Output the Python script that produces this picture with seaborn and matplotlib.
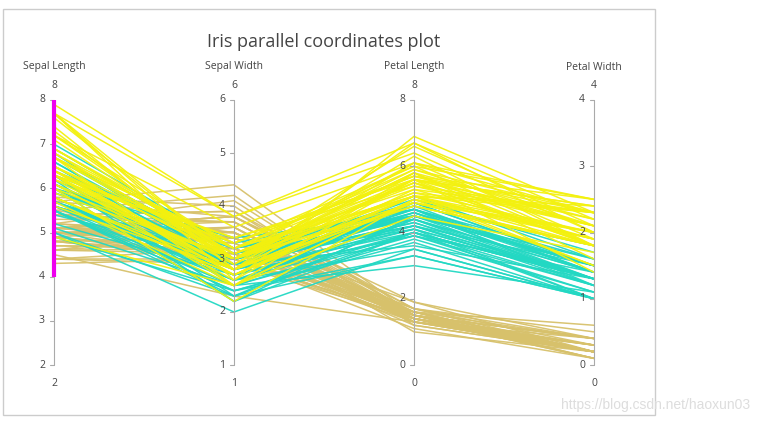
import pandas as pd
import seaborn as sns
import matplotlib.pyplot as plt
from matplotlib.patches import Rectangle

# Iris data (Fisher), 50 rows per species
sepal_length = [
    5.1, 4.9, 4.7, 4.6, 5.0, 5.4, 4.6, 5.0, 4.4, 4.9, 5.4, 4.8, 4.8, 4.3, 5.8, 5.7, 5.4, 5.1, 5.7, 5.1,
    5.4, 5.1, 4.6, 5.1, 4.8, 5.0, 5.0, 5.2, 5.2, 4.7, 4.8, 5.4, 5.2, 5.5, 4.9, 5.0, 5.5, 4.9, 4.4, 5.1,
    5.0, 4.5, 4.4, 5.0, 5.1, 4.8, 5.1, 4.6, 5.3, 5.0,
    7.0, 6.4, 6.9, 5.5, 6.5, 5.7, 6.3, 4.9, 6.6, 5.2, 5.0, 5.9, 6.0, 6.1, 5.6, 6.7, 5.6, 5.8, 6.2, 5.6,
    5.9, 6.1, 6.3, 6.1, 6.4, 6.6, 6.8, 6.7, 6.0, 5.7, 5.5, 5.5, 5.8, 6.0, 5.4, 6.0, 6.7, 6.3, 5.6, 5.5,
    5.5, 6.1, 5.8, 5.0, 5.6, 5.7, 5.7, 6.2, 5.1, 5.7,
    6.3, 5.8, 7.1, 6.3, 6.5, 7.6, 4.9, 7.3, 6.7, 7.2, 6.5, 6.4, 6.8, 5.7, 5.8, 6.4, 6.5, 7.7, 7.7, 6.0,
    6.9, 5.6, 7.7, 6.3, 6.7, 7.2, 6.2, 6.1, 6.4, 7.2, 7.4, 7.9, 6.4, 6.3, 6.1, 7.7, 6.3, 6.4, 6.0, 6.9,
    6.7, 6.9, 5.8, 6.8, 6.7, 6.7, 6.3, 6.5, 6.2, 5.9,
]
sepal_width = [
    3.5, 3.0, 3.2, 3.1, 3.6, 3.9, 3.4, 3.4, 2.9, 3.1, 3.7, 3.4, 3.0, 3.0, 4.0, 4.4, 3.9, 3.5, 3.8, 3.8,
    3.4, 3.7, 3.6, 3.3, 3.4, 3.0, 3.4, 3.5, 3.4, 3.2, 3.1, 3.4, 4.1, 4.2, 3.1, 3.2, 3.5, 3.6, 3.0, 3.4,
    3.5, 2.3, 3.2, 3.5, 3.8, 3.0, 3.8, 3.2, 3.7, 3.3,
    3.2, 3.2, 3.1, 2.3, 2.8, 2.8, 3.3, 2.4, 2.9, 2.7, 2.0, 3.0, 2.2, 2.9, 2.9, 3.1, 3.0, 2.7, 2.2, 2.5,
    3.2, 2.8, 2.5, 2.8, 2.9, 3.0, 2.8, 3.0, 2.9, 2.6, 2.4, 2.4, 2.7, 2.7, 3.0, 3.4, 3.1, 2.3, 3.0, 2.5,
    2.6, 3.0, 2.6, 2.3, 2.7, 3.0, 2.9, 2.9, 2.5, 2.8,
    3.3, 2.7, 3.0, 2.9, 3.0, 3.0, 2.5, 2.9, 2.5, 3.6, 3.2, 2.7, 3.0, 2.5, 2.8, 3.2, 3.0, 3.8, 2.6, 2.2,
    3.2, 2.8, 2.8, 2.7, 3.3, 3.2, 2.8, 3.0, 2.8, 3.0, 2.8, 3.8, 2.8, 2.8, 2.6, 3.0, 3.4, 3.1, 3.0, 3.1,
    3.1, 3.1, 2.7, 3.2, 3.3, 3.0, 2.5, 3.0, 3.4, 3.0,
]
petal_length = [
    1.4, 1.4, 1.3, 1.5, 1.4, 1.7, 1.4, 1.5, 1.4, 1.5, 1.5, 1.6, 1.4, 1.1, 1.2, 1.5, 1.3, 1.4, 1.7, 1.5,
    1.7, 1.5, 1.0, 1.7, 1.9, 1.6, 1.6, 1.5, 1.4, 1.6, 1.6, 1.5, 1.5, 1.4, 1.5, 1.2, 1.3, 1.4, 1.3, 1.5,
    1.3, 1.3, 1.3, 1.6, 1.9, 1.4, 1.6, 1.4, 1.5, 1.4,
    4.7, 4.5, 4.9, 4.0, 4.6, 4.5, 4.7, 3.3, 4.6, 3.9, 3.5, 4.2, 4.0, 4.7, 3.6, 4.4, 4.5, 4.1, 4.5, 3.9,
    4.8, 4.0, 4.9, 4.7, 4.3, 4.4, 4.8, 5.0, 4.5, 3.5, 3.8, 3.7, 3.9, 5.1, 4.5, 4.5, 4.7, 4.4, 4.1, 4.0,
    4.4, 4.6, 4.0, 3.3, 4.2, 4.2, 4.2, 4.3, 3.0, 4.1,
    6.0, 5.1, 5.9, 5.6, 5.8, 6.6, 4.5, 6.3, 5.8, 6.1, 5.1, 5.3, 5.5, 5.0, 5.1, 5.3, 5.5, 6.7, 6.9, 5.0,
    5.7, 4.9, 6.7, 4.9, 5.7, 6.0, 4.8, 4.9, 5.6, 5.8, 6.1, 6.4, 5.6, 5.1, 5.6, 6.1, 5.6, 5.5, 4.8, 5.4,
    5.6, 5.1, 5.1, 5.9, 5.7, 5.2, 5.0, 5.2, 5.4, 5.1,
]
petal_width = [
    0.2, 0.2, 0.2, 0.2, 0.2, 0.4, 0.3, 0.2, 0.2, 0.1, 0.2, 0.2, 0.1, 0.1, 0.2, 0.4, 0.4, 0.3, 0.3, 0.3,
    0.2, 0.4, 0.2, 0.5, 0.2, 0.2, 0.4, 0.2, 0.2, 0.2, 0.2, 0.4, 0.1, 0.2, 0.2, 0.2, 0.2, 0.1, 0.2, 0.2,
    0.3, 0.3, 0.2, 0.6, 0.4, 0.3, 0.2, 0.2, 0.2, 0.2,
    1.4, 1.5, 1.5, 1.3, 1.5, 1.3, 1.6, 1.0, 1.3, 1.4, 1.0, 1.5, 1.0, 1.4, 1.3, 1.4, 1.5, 1.0, 1.5, 1.1,
    1.8, 1.3, 1.5, 1.2, 1.3, 1.4, 1.4, 1.7, 1.5, 1.0, 1.1, 1.0, 1.2, 1.6, 1.5, 1.6, 1.5, 1.3, 1.3, 1.3,
    1.2, 1.4, 1.2, 1.0, 1.3, 1.2, 1.3, 1.3, 1.1, 1.3,
    2.5, 1.9, 2.1, 1.8, 2.2, 2.1, 1.7, 1.8, 1.8, 2.5, 2.0, 1.9, 2.1, 2.0, 2.4, 2.3, 1.8, 2.2, 2.3, 1.5,
    2.3, 2.0, 2.0, 1.8, 2.1, 1.8, 1.8, 1.8, 2.1, 1.6, 1.9, 2.0, 2.2, 1.5, 1.4, 2.3, 2.4, 1.8, 1.8, 2.1,
    2.4, 2.3, 1.9, 2.3, 2.5, 2.3, 1.9, 2.0, 2.3, 1.8,
]
species = ["setosa"] * 50 + ["versicolor"] * 50 + ["virginica"] * 50

dim_names = ["Sepal Length", "Sepal Width", "Petal Length", "Petal Width"]
dim_ranges = [(2, 8), (1, 6), (0, 8), (0, 4)]
dim_ticks = [[2, 3, 4, 5, 6, 7, 8], [1, 2, 3, 4, 5, 6], [0, 2, 4, 6, 8], [0, 1, 2, 3, 4]]
constraint_range = (4, 8)  # brushed range on Sepal Length
species_order = ["setosa", "versicolor", "virginica"]
palette = {"setosa": "#D7C16B", "versicolor": "#23D8C3", "virginica": "#F3F10F"}

# Build a long table with each value scaled to its own axis
df = pd.DataFrame({
    "Sepal Length": sepal_length,
    "Sepal Width": sepal_width,
    "Petal Length": petal_length,
    "Petal Width": petal_width,
    "species": species,
})
df["id"] = range(len(df))
long = df.melt(id_vars=["id", "species"], value_vars=dim_names, var_name="dim", value_name="value")
lo = long["dim"].map({n: r[0] for n, r in zip(dim_names, dim_ranges)})
hi = long["dim"].map({n: r[1] for n, r in zip(dim_names, dim_ranges)})
long["pos"] = long["dim"].map({n: i for i, n in enumerate(dim_names)})
long["norm"] = (long["value"] - lo) / (hi - lo)

sns.set_style("white")
plt.rcParams["font.family"] = ["Open Sans", "DejaVu Sans"]
text_color = "#444444"

fig = plt.figure(figsize=(7.59, 4.24), dpi=100)
ax = fig.add_axes([54 / 759, 59 / 424, 540 / 759, 265 / 424])

sns.lineplot(data=long, x="pos", y="norm", hue="species", units="id", estimator=None,
             hue_order=species_order, palette=palette, legend=False, linewidth=1.1,
             alpha=0.95, ax=ax)
for line in ax.lines:
    line.set_clip_on(False)

ax.set_xlim(0, 3)
ax.set_ylim(0, 1)
ax.axis("off")

# Axes, ticks and labels for each dimension
tick_len = 4 / 180
for i, (name, (vmin, vmax), ticks) in enumerate(zip(dim_names, dim_ranges, dim_ticks)):
    ax.plot([i, i], [0, 1], color="#aaaaaa", lw=0.8, clip_on=False, zorder=3)
    for t in ticks:
        yn = (t - vmin) / (vmax - vmin)
        ax.plot([i - tick_len, i], [yn, yn], color="#aaaaaa", lw=0.8, clip_on=False, zorder=3)
        ax.annotate(str(t), xy=(i, yn), xytext=(-6.5, 0), textcoords="offset points",
                    ha="right", va="center", fontsize=7.5, color=text_color)
    ax.text(i, 1 + 33 / 265, name, ha="center", va="center", fontsize=7.5, color=text_color,
            transform=ax.transData)
    ax.text(i, 1 + 15 / 265, str(vmax), ha="center", va="center", fontsize=7.5, color=text_color)
    ax.text(i, -18 / 265, str(vmin), ha="center", va="center", fontsize=7.5, color=text_color)

# Constraint bar on the first axis
c_lo = (constraint_range[0] - dim_ranges[0][0]) / (dim_ranges[0][1] - dim_ranges[0][0])
c_hi = (constraint_range[1] - dim_ranges[0][0]) / (dim_ranges[0][1] - dim_ranges[0][0])
ax.plot([0, 0], [c_lo, c_hi], color="#ee00ee", lw=3, clip_on=False, zorder=5, solid_capstyle="butt")

fig.text(324 / 759, 1 - 42 / 424, "Iris parallel coordinates plot", ha="center", va="center",
         fontsize=13, color=text_color)

# outer frame
fig.patches.append(Rectangle((3 / 759, 9 / 424), 652 / 759, 406 / 424, transform=fig.transFigure,
                             fill=False, edgecolor="#cccccc", lw=1))

fig.text(750 / 759, 1 - 405 / 424, "https://blog.csdn.net/haoxun03", ha="right", va="center",
         fontsize=10, color="#dddddd", family=["Liberation Sans", "DejaVu Sans"])

fig.savefig("out.png", dpi=100)
